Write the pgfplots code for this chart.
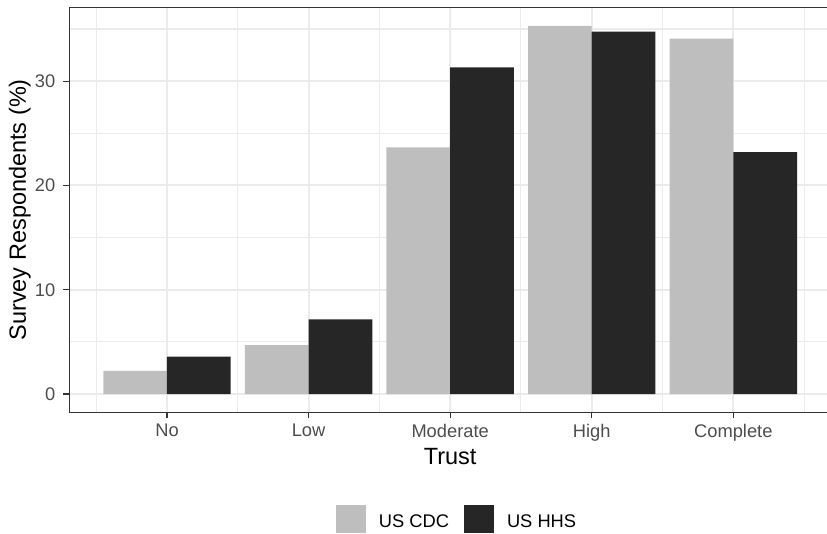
\documentclass[border=0pt]{standalone}
\usepackage{fontspec}
\setmainfont{Liberation Sans}
\usepackage{pgfplots}
\pgfplotsset{compat=1.18}
\definecolor{cdc}{RGB}{190,190,190}
\definecolor{hhs}{RGB}{38,38,38}
\definecolor{gridc}{RGB}{235,235,235}
\definecolor{tickc}{RGB}{51,51,51}
\definecolor{labc}{RGB}{77,77,77}
\begin{document}
\begin{tikzpicture}
\path[use as bounding box] (0,0) rectangle (827bp,534bp);
\begin{axis}[
  at={(69.3bp,121.7bp)}, anchor=south west,
  scale only axis, width=761.7bp, height=405bp,
  xmin=0.31, xmax=5.69, ymin=-1.75, ymax=37.08,
  xtick={1,2,3,4,5}, xticklabels={No,Low,Moderate,High,Complete},
  ytick={0,10,20,30},
  minor xtick={0.5,1.5,2.5,3.5,4.5,5.5},
  minor ytick={5,15,25,35},
  grid=both,
  major grid style={draw=gridc, line width=2bp},
  minor grid style={draw=gridc, line width=1.1bp},
  tick pos=left, tick align=outside,
  major tick length=5.8bp, minor tick length=0pt,
  tick style={draw=tickc, line width=1.1bp},
  axis line style={draw=tickc, line width=1.5bp},
  /pgf/number format/assume math mode=true,
  ticklabel style={font=\fontsize{18.3bp}{22bp}\selectfont, text=labc},
  xticklabel style={anchor=north, inner sep=0pt, yshift=-6bp},
  yticklabel style={anchor=east, inner sep=0pt, xshift=-8bp},
  xlabel={Trust}, ylabel={Survey Respondents (\%)},
  every axis x label/.style={at={(axis description cs:0.5,-0.1277)}, anchor=base, font=\fontsize{23.5bp}{28bp}\selectfont},
  every axis y label/.style={at={(axis description cs:-0.0569,0.5)}, rotate=90, anchor=base, font=\fontsize{23.5bp}{28bp}\selectfont},
  legend columns=2,
  legend style={at={(axis description cs:0.5077,-0.2635)}, anchor=center, draw=none, fill=none, inner sep=0pt,
    font=\fontsize{18.3bp}{22bp}\selectfont, nodes={inner sep=0pt},
    /tikz/every odd column/.append style={column sep=13bp},
    /tikz/every even column/.append style={column sep=15bp}},
  legend image code/.code={\fill[#1,/tikz/.cd,draw=none] (0bp,-11.25bp) rectangle (30bp,16.75bp);},
]
\addplot[ybar, bar width=0.45, bar shift=-0.225, fill=cdc, draw=none]
  coordinates {(1,2.23) (2,4.70) (3,23.65) (4,35.31) (5,34.07)};
\addplot[ybar, bar width=0.45, bar shift=0.225, fill=hhs, draw=none]
  coordinates {(1,3.58) (2,7.16) (3,31.32) (4,34.74) (5,23.2)};
\legend{US CDC, US HHS}
\end{axis}
\end{tikzpicture}
\end{document}
